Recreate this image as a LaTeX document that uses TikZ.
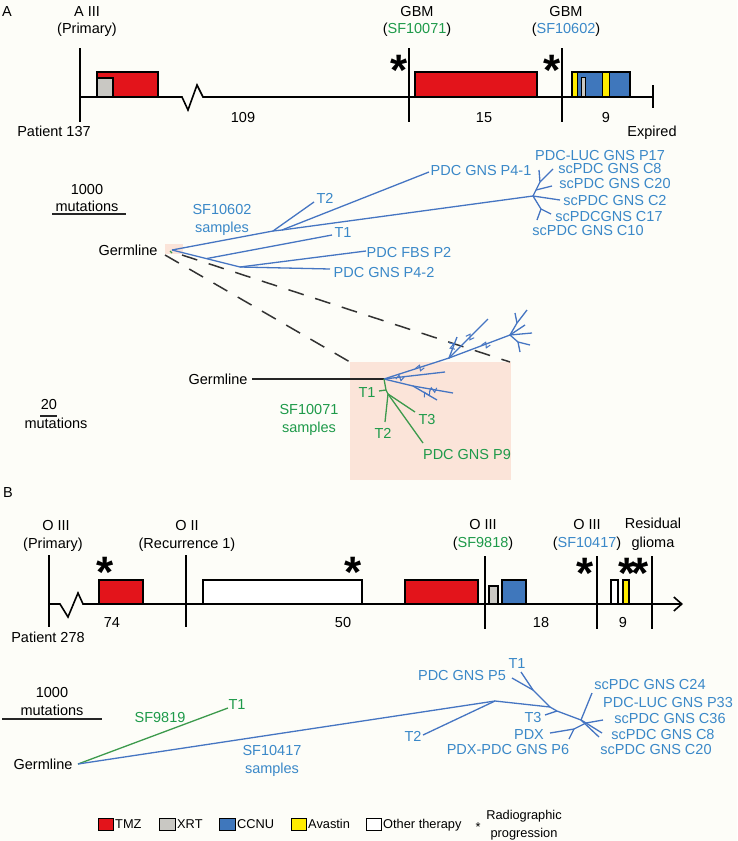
\documentclass[tikz,border=0pt]{standalone}
\usepackage{fontspec}
\setmainfont{Liberation Sans}
\usetikzlibrary{arrows.meta}
\definecolor{tmz}{HTML}{E3141B}
\definecolor{xrt}{HTML}{C9C8C3}
\definecolor{ccnu}{HTML}{3F77BC}
\definecolor{avas}{HTML}{FFEC00}
\definecolor{tblue}{HTML}{3A88C8}
\definecolor{lblue}{HTML}{4575C2}
\definecolor{tgreen}{HTML}{1E9A4A}
\definecolor{lgreen}{HTML}{3C9A4C}
\definecolor{pinkbg}{HTML}{FBE4D9}
\definecolor{bgc}{HTML}{FDFDF8}
\tikzset{brk/.pic={\draw[lblue,line width=1pt] (-4,1.5)--(-1.3,-2.5)--(1.3,2.5)--(4,-1.5);}}
\begin{document}
\begin{tikzpicture}[x=1pt,y=-1pt,
  lab/.style={anchor=base,inner sep=0pt,yshift=-5.2pt,font=\fontsize{14.5}{17}\selectfont},
  bl/.style={lab,text=tblue},
  gl/.style={lab,text=tgreen},
  leg/.style={anchor=base west,inner sep=0pt,yshift=-4.6pt,font=\fontsize{12.8}{15}\selectfont},
  legc/.style={leg,anchor=base},
  ast/.style={anchor=base,inner sep=0pt,yshift=-25pt,font=\bfseries\fontsize{44}{44}\selectfont},
  tline/.style={line width=1.6pt,black},
  vtick/.style={line width=1.4pt,black},
  tbox/.style={draw=black,line width=1.1pt},
  bt/.style={lblue,line width=1.3pt},
  gt/.style={lgreen,line width=1.3pt},
  dsh/.style={line width=1.5pt,black!80,dash pattern=on 16pt off 12pt},
]
\useasboundingbox (0,0) rectangle (737,841);
\fill[bgc] (0,0) rectangle (737,841);

% ================= Panel A =================
\node[lab] (pA) at (7,11) {A};
\node[lab] (aIIIa) at (87,11) {A III};
\node[lab] (aIIIb) at (87,28) {(Primary)};
\node[lab] (gbm1a) at (417,11) {GBM};
\node[lab] (gbm1b) at (417,28) {(\textcolor{tgreen}{SF10071})};
\node[lab] (gbm2a) at (566,11) {GBM};
\node[lab] (gbm2b) at (566,28) {(\textcolor{tblue}{SF10602})};
\node[ast] (astA1) at (399,60) {*};
\node[ast] (astA2) at (552,60) {*};

% boxes
\filldraw[tbox,fill=tmz] (97,72) rectangle (158,97);
\filldraw[tbox,fill=xrt] (97,78) rectangle (113,97);
\filldraw[tbox,fill=tmz] (415,72) rectangle (537,97);
\filldraw[tbox,fill=ccnu] (572,72) rectangle (630,97);
\filldraw[tbox,fill=avas,line width=0.8pt] (572,72) rectangle (577,97);
\filldraw[tbox,fill=avas,line width=0.8pt] (602,72) rectangle (609,97);
\filldraw[tbox,fill=xrt,line width=0.8pt] (581,77) rectangle (585,97);

\draw[vtick] (80,48) -- (80,122);
\draw[vtick] (409,48) -- (409,122);
\draw[vtick] (562,48) -- (562,122);
\draw[vtick] (653,85) -- (653,108);
\draw[tline] (80,97) -- (182,97) -- (188,110) -- (197,85) -- (203,97) -- (653,97);

\node[lab] (pat137) at (54,131) {Patient 137};
\node[lab] (d109) at (243,117) {109};
\node[lab] (d15) at (484,117) {15};
\node[lab] (d9a) at (606,117) {9};
\node[lab] (expd) at (652,131) {Expired};

% scale bar A
\node[lab] (scA1) at (87,189) {1000};
\node[lab] (scA2) at (87,206) {mutations};
\draw[line width=1.3pt,black!85] (52,214) -- (126,214);

% zoom boxes and dashed lines
\fill[pinkbg] (350,362) rectangle (511,480);
\fill[pinkbg] (165,244) rectangle (183,254);
\draw[dsh] (165,255) -- (350,362);
\draw[dsh] (182,255) -- (510,362);

% tree A (SF10602)
\node[lab] (germA) at (128,250) {Germline};
\coordinate (rA) at (172,250);
\coordinate (n1) at (273,231);
\coordinate (n1b) at (282,230);
\coordinate (t2e) at (314,202);
\coordinate (p41e) at (429,172);
\coordinate (cA) at (533,196);
\coordinate (uA) at (540,182);
\coordinate (mA) at (536,190);
\coordinate (p17e) at (539,170);
\coordinate (c8e) at (553,169);
\coordinate (c20e) at (552,186);
\coordinate (c2e) at (560,200);
\coordinate (lA) at (541,209);
\coordinate (c17e) at (551,214);
\coordinate (c10e) at (537,220);
\coordinate (n2) at (240,267);
\coordinate (n2a) at (207,258.5);
\coordinate (t1e) at (332,235);
\coordinate (fbse) at (366,251);
\coordinate (p42e) at (330,269);
\draw[bt] (rA) -- (n1) -- (n1b) -- (cA);
\draw[bt] (n1) -- (t2e);
\draw[bt] (n1b) -- (p41e);
\draw[bt] (cA) -- (uA) -- (p17e);
\draw[bt] (uA) -- (c8e);
\draw[bt] (mA) -- (c20e);
\draw[bt] (cA) -- (c2e);
\draw[bt] (cA) -- (lA) -- (c17e);
\draw[bt] (lA) -- (c10e);
\draw[bt] (rA) -- (n2) -- (fbse);
\draw[bt] (n2) -- (p42e);
\draw[bt] (n2a) -- (t1e);
\draw[gt] (170,251) -- (172,253);

\node[bl] (sfA1) at (222,209) {SF10602};
\node[bl] (sfA2) at (222,227) {samples};
\node[bl] (lT2A) at (325,198) {T2};
\node[bl] (lT1A) at (343,232) {T1};
\node[bl] (lP41) at (481,170) {PDC GNS P4-1};
\node[bl] (lFBS) at (409,252) {PDC FBS P2};
\node[bl] (lP42) at (384,272) {PDC GNS P4-2};
\node[bl] (lP17) at (600,155) {PDC-LUC GNS P17};
\node[bl] (lC8A) at (610,168) {scPDC GNS C8};
\node[bl] (lC20A) at (615,183) {scPDC GNS C20};
\node[bl] (lC2A) at (615,200) {scPDC GNS C2};
\node[bl] (lC17A) at (609,216) {scPDCGNS C17};
\node[bl] (lC10A) at (588,230) {scPDC GNS C10};

% small tree (SF10071)
\node[lab] (germS) at (218,379) {Germline};
\coordinate (gS) at (252,379);
\coordinate (s0) at (384,379);
\draw[line width=1.2pt,black!85] (gS) -- (s0);
\coordinate (s1) at (449,358);
\coordinate (s1a) at (457,337);
\coordinate (s1b) at (488,319);
\coordinate (c2) at (510,335);
\coordinate (c2m) at (517,323);
\coordinate (c2a) at (527,310);
\coordinate (c2b) at (515,313);
\coordinate (c2c) at (525,325);
\coordinate (c2d) at (532,333);
\coordinate (c2l) at (518,342);
\coordinate (c2e1) at (530,345);
\coordinate (c2e2) at (520,352);
\coordinate (sl1) at (445,372);
\coordinate (sj) at (413,386);
\coordinate (sl2) at (453,393);
\coordinate (sl3) at (437,400);
\draw[bt] (s0) -- (s1) -- (s1a);
\draw[bt] (s1) -- (s1b);
\draw[bt] (s1) -- (c2);
\draw[bt] (c2) -- (c2m) -- (c2a);
\draw[bt] (c2m) -- (c2b);
\draw[bt] (c2) -- (c2c);
\draw[bt] (c2) -- (c2d);
\draw[bt] (c2) -- (c2l) -- (c2e1);
\draw[bt] (c2l) -- (c2e2);
\draw[bt] (s0) -- (sl1);
\draw[bt] (s0) -- (sj) -- (sl2);
\draw[bt] (sj) -- (sl3);
\pic[rotate=-18] at (420,368) {brk};
\pic[rotate=-68] at (452,346) {brk};
\pic[rotate=-30] at (470,337) {brk};
\pic[rotate=-22] at (486,345) {brk};
\pic[rotate=-7] at (400,378) {brk};
\pic[rotate=10] at (433,390) {brk};
\pic[rotate=30] at (427,394) {brk};

\coordinate (gA) at (386,390);
\coordinate (gT1) at (379,391);
\coordinate (gB) at (388,394);
\coordinate (gT2) at (385,422);
\coordinate (gT3) at (415,412);
\coordinate (gP9) at (423,443);
\draw[gt] (s0) -- (gA) -- (gB) -- (gT2);
\draw[gt] (gA) -- (gT1);
\draw[gt] (gB) -- (gT3);
\draw[gt] (gB) -- (gP9);
\node[gl] (lT1S) at (367,392) {T1};
\node[gl] (lT2S) at (383,433) {T2};
\node[gl] (lT3S) at (427,419) {T3};
\node[gl] (lP9) at (467,454) {PDC GNS P9};
\node[gl] (sfS1) at (309,409) {SF10071};
\node[gl] (sfS2) at (309,427) {samples};

\node[lab] (scS1) at (49,404) {20};
\draw[line width=1.3pt,black!85] (40,416) -- (57,416);
\node[lab] (scS2) at (56,423) {mutations};

% ================= Panel B =================
\node[lab] (pB) at (8,492) {B};
\node[lab] (oIIIa) at (56,525) {O III};
\node[lab] (oIIIb) at (53,543) {(Primary)};
\node[lab] (oIIa) at (187,525) {O II};
\node[lab] (oIIb) at (187,543) {(Recurrence 1)};
\node[lab] (oIII2a) at (483,524) {O III};
\node[lab] (oIII2b) at (483,542) {(\textcolor{tgreen}{SF9818})};
\node[lab] (oIII3a) at (587,524) {O III};
\node[lab] (oIII3b) at (587,542) {(\textcolor{tblue}{SF10417})};
\node[lab] (resa) at (653,523) {Residual};
\node[lab] (resb) at (653,542) {glioma};

\filldraw[tbox,fill=tmz] (99,580) rectangle (143,604);
\filldraw[tbox,fill=white] (203,580) rectangle (362,604);
\filldraw[tbox,fill=tmz] (405,580) rectangle (478,604);
\filldraw[tbox,fill=xrt] (489,586) rectangle (498,604);
\filldraw[tbox,fill=ccnu] (502,580) rectangle (526,604);
\filldraw[tbox,fill=white] (611,580) rectangle (618,604);
\filldraw[tbox,fill=avas] (623,580) rectangle (629,604);

\draw[vtick] (49,555) -- (49,627);
\draw[vtick] (186,555) -- (186,627);
\draw[vtick] (485,556) -- (485,629);
\draw[vtick] (597,556) -- (597,629);
\draw[vtick] (652,556) -- (652,629);
\draw[tline,-{Straight Barb[length=8pt,width=14pt,line width=1.6pt]}] (49,604) -- (60,604) -- (68,617) -- (78,593) -- (83,604) -- (683,604);

\node[ast] (astB1) at (105,562) {*};
\node[ast] (astB2) at (353,562) {*};
\node[ast] (astB3) at (585,563) {*};
\node[ast] (astB4) at (627,563) {*};
\node[ast] (astB5) at (640,563) {*};

\node[lab] (pat278) at (48,637) {Patient 278};
\node[lab] (d74) at (112,622) {74};
\node[lab] (d50) at (343,622) {50};
\node[lab] (d18) at (541,622) {18};
\node[lab] (d9b) at (623,622) {9};

% scale bar B
\node[lab] (scB1) at (52,692) {1000};
\node[lab] (scB2) at (52,710) {mutations};
\draw[line width=1.3pt,black!85] (2,719) -- (102,719);

% tree B
\node[lab] (germB) at (43,764) {Germline};
\coordinate (rB) at (78,764);
\coordinate (gT1B) at (228,708);
\coordinate (J1) at (495,701);
\coordinate (T2Be) at (423,735);
\coordinate (J2) at (550,707);
\coordinate (J3) at (533,690);
\coordinate (T1Be) at (521,672);
\coordinate (P5e) at (512,678);
\coordinate (J4) at (557,711);
\coordinate (T3Be) at (545,715);
\coordinate (J5) at (581,720);
\coordinate (C24e) at (592,693);
\coordinate (J6) at (586,723);
\coordinate (C36e) at (603,720);
\coordinate (C8Be) at (602,733);
\coordinate (C20Be) at (599,737);
\coordinate (J7) at (574,729);
\coordinate (PDXe) at (550,733);
\coordinate (P6e) at (569,739);
\draw[gt] (rB) -- (gT1B);
\draw[bt] (rB) -- (J1) -- (J2) -- (J4) -- (J5) -- (J6) -- (C8Be);
\draw[bt] (J1) -- (T2Be);
\draw[bt] (J2) -- (J3) -- (T1Be);
\draw[bt] (J3) -- (P5e);
\draw[bt] (J4) -- (T3Be);
\draw[bt] (J5) -- (C24e);
\draw[bt] (J6) -- (C36e);
\draw[bt] (J5) -- (C20Be);
\draw[bt] (J6) -- (J7) -- (PDXe);
\draw[bt] (J7) -- (P6e);

\node[gl] (lT1B) at (237,704) {T1};
\node[gl] (lSF9819) at (160,717) {SF9819};
\node[bl] (sfB1) at (272,750) {SF10417};
\node[bl] (sfB2) at (272,768) {samples};
\node[bl] (lT2B) at (413,736) {T2};
\node[bl] (lT1B2) at (517,663) {T1};
\node[bl] (lP5) at (462,675) {PDC GNS P5};
\node[bl] (lT3B) at (533,717) {T3};
\node[bl] (lPDX) at (529,734) {PDX};
\node[bl] (lP6) at (508,749) {PDX-PDC GNS P6};
\node[bl] (lC24) at (650,684) {scPDC GNS C24};
\node[bl] (lP33) at (668,702) {PDC-LUC GNS P33};
\node[bl] (lC36) at (670,718) {scPDC GNS C36};
\node[bl] (lC8B) at (663,734) {scPDC GNS C8};
\node[bl] (lC20B) at (656,749) {scPDC GNS C20};

% ================= Legend =================
\filldraw[tbox,fill=tmz,line width=0.9pt] (98,818) rectangle (113,830);
\node[leg] (lgTMZ) at (115,824) {TMZ};
\filldraw[tbox,fill=xrt,line width=0.9pt] (159,818) rectangle (175,830);
\node[leg] (lgXRT) at (177,824) {XRT};
\filldraw[tbox,fill=ccnu,line width=0.9pt] (219,818) rectangle (235,830);
\node[leg] (lgCCNU) at (237,824) {CCNU};
\filldraw[tbox,fill=avas,line width=0.9pt] (291,818) rectangle (306,830);
\node[leg] (lgAva) at (308,824) {Avastin};
\filldraw[tbox,fill=white,line width=0.9pt] (366,818) rectangle (381,830);
\node[leg] (lgOth) at (383,824) {Other therapy};
\node[legc,yshift=-2.7pt] (lgAst) at (478,824) {*};
\node[legc] (lgRad1) at (524,815) {Radiographic};
\node[legc] (lgRad2) at (524,833) {progression};
\end{tikzpicture}
\end{document}
